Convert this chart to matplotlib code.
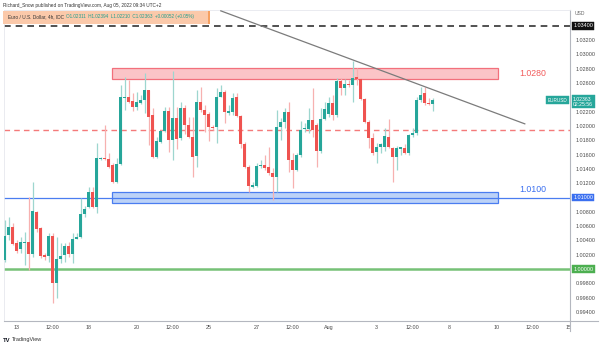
import numpy as np
import pandas as pd
import matplotlib
matplotlib.use("Agg")
import matplotlib.pyplot as plt
from matplotlib.patches import Rectangle
from matplotlib.lines import Line2D

# EUR/USD 4h candles, Jul 12 2022 12:00 .. Aug 05 2022 08:00 (UTC+2)
opens = [1.00126, 1.00476, 1.00583, 1.00359, 1.00275, 1.00368, 1.00373, 1.00205, 1.00802, 1.00569,
         1.00196, 1.00182, 1.00462, 0.99809, 1.00135, 1.00196, 1.00322, 1.00205, 1.00424, 1.00443,
         1.00769, 1.00872, 1.01082, 1.00872, 1.01538, 1.01557, 1.01538, 1.01455, 1.01221, 1.01469,
         1.02392, 1.02410, 1.02350, 1.02270, 1.02317, 1.02364, 1.02503, 1.02154, 1.01562, 1.01781,
         1.01935, 1.02214, 1.01804, 1.02117, 1.01827, 1.02256, 1.02014, 1.01841, 1.01585, 1.02331,
         1.02224, 1.02168, 1.01981, 1.01981, 1.02410, 1.02471, 1.02186, 1.02200, 1.02401, 1.02140,
         1.01744, 1.01431, 1.01152, 1.01161, 1.01441, 1.01455, 1.01431, 1.01338, 1.01291, 1.01981,
         1.02051, 1.02200, 1.01524, 1.01385, 1.01594, 1.01953, 1.01953, 1.02084, 1.02014, 1.01650,
         1.02098, 1.02168, 1.02317, 1.02154, 1.02629, 1.02527, 1.02587, 1.02573, 1.02681, 1.02657,
         1.02373, 1.02061, 1.01827, 1.01632, 1.01702, 1.01711, 1.01851, 1.01688, 1.01571, 1.01683,
         1.01697, 1.01627, 1.01874, 1.01907, 1.02364, 1.02457, 1.02317, 1.02311]
highs = [1.00685, 1.00732, 1.00639, 1.00406, 1.00452, 1.00522, 1.01012, 1.01221, 1.00811, 1.00592,
         1.00219, 1.00508, 1.00499, 1.00452, 1.00359, 1.00359, 1.00382, 1.00499, 1.00499, 1.00988,
         1.00881, 1.01152, 1.01152, 1.01758, 1.01571, 1.02014, 1.01618, 1.01478, 1.01548, 1.02573,
         1.02681, 1.02643, 1.02457, 1.02480, 1.02434, 1.02737, 1.02510, 1.02247, 1.01851, 1.01944,
         1.02270, 1.02270, 1.02774, 1.02270, 1.02340, 1.02294, 1.02131, 1.02131, 1.02503, 1.02550,
         1.02294, 1.02200, 1.02014, 1.02527, 1.02573, 1.02503, 1.02294, 1.02457, 1.02457, 1.02154,
         1.01781, 1.01455, 1.01221, 1.01478, 1.01524, 1.01594, 1.01711, 1.01408, 1.02224, 1.02107,
         1.02247, 1.02340, 1.01618, 1.01618, 1.02070, 1.02037, 1.02247, 1.02527, 1.02037, 1.02247,
         1.02340, 1.02410, 1.02434, 1.02667, 1.02667, 1.02653, 1.02643, 1.02914, 1.02807, 1.02667,
         1.02387, 1.02084, 1.01898, 1.01758, 1.01767, 1.01967, 1.02098, 1.01711, 1.01720, 1.01711,
         1.01748, 1.01888, 1.01967, 1.02410, 1.02550, 1.02541, 1.02387, 1.02394]
lows = [1.00103, 1.00406, 1.00336, 1.00219, 1.00219, 1.00056, 0.99986, 1.00172, 1.00522, 1.00149,
        1.00126, 1.00103, 0.99520, 0.99590, 1.00079, 1.00103, 1.00172, 1.00079, 1.00415, 1.00429,
        1.00732, 1.00848, 1.00860, 1.00788, 1.01524, 1.01524, 1.01408, 1.01198, 1.01198, 1.01455,
        1.02224, 1.02326, 1.02214, 1.02224, 1.02308, 1.02186, 1.01734, 1.01548, 1.01548, 1.01758,
        1.01921, 1.01641, 1.01524, 1.01674, 1.01804, 1.01888, 1.01827, 1.01291, 1.01422, 1.02200,
        1.01921, 1.01795, 1.01944, 1.01767, 1.02401, 1.02037, 1.02154, 1.02154, 1.02121, 1.01688,
        1.01408, 1.01082, 1.01128, 1.01152, 1.01408, 1.01385, 1.01315, 1.00965, 1.01082, 1.01804,
        1.01967, 1.01361, 1.01128, 1.01375, 1.01571, 1.01921, 1.01898, 1.01851, 1.01431, 1.01627,
        1.02084, 1.02131, 1.02084, 1.02131, 1.02434, 1.02434, 1.02550, 1.02340, 1.02573, 1.02364,
        1.02037, 1.01688, 1.01594, 1.01487, 1.01618, 1.01655, 1.01688, 1.01221, 1.01385, 1.01594,
        1.01608, 1.01594, 1.01851, 1.01874, 1.02340, 1.02294, 1.02294, 1.02210]
closes = [1.00462, 1.00583, 1.00350, 1.00252, 1.00373, 1.00382, 1.00205, 1.00811, 1.00555, 1.00182,
          1.00172, 1.00462, 0.99809, 1.00135, 1.00182, 1.00326, 1.00205, 1.00420, 1.00443, 1.00769,
          1.00839, 1.01082, 1.00872, 1.01548, 1.01557, 1.01545, 1.01431, 1.01221, 1.01469, 1.02401,
          1.02410, 1.02340, 1.02270, 1.02336, 1.02364, 1.02503, 1.02131, 1.01562, 1.01790, 1.01935,
          1.02214, 1.01804, 1.02117, 1.01818, 1.02256, 1.02014, 1.01851, 1.01562, 1.02331, 1.02224,
          1.02154, 1.01981, 1.01967, 1.02410, 1.02480, 1.02200, 1.02214, 1.02387, 1.02140, 1.01748,
          1.01422, 1.01166, 1.01175, 1.01441, 1.01455, 1.01408, 1.01338, 1.01291, 1.01991, 1.02061,
          1.02200, 1.01524, 1.01385, 1.01594, 1.01944, 1.01967, 1.02084, 1.01944, 1.01650, 1.02098,
          1.02238, 1.02317, 1.02154, 1.02629, 1.02527, 1.02583, 1.02578, 1.02667, 1.02660, 1.02373,
          1.02061, 1.01827, 1.01618, 1.01702, 1.01748, 1.01860, 1.01702, 1.01571, 1.01688, 1.01702,
          1.01627, 1.01874, 1.01907, 1.02364, 1.02434, 1.02317, 1.02308, 1.02363]

# Horizontal levels and zones
resistance_level = 1.0280
resistance_zone = (1.0266, 1.0281)
support_level = 1.0100
support_zone = (1.0092, 1.0108)
pivot_level = 1.0195
parity_level = 1.0000
top_level = 1.0340
zone_span = ("2022-07-19 00:00", "2022-08-10 00:00")

# Descending trendline anchors (time, price)
trend_times = ["2022-07-25 12:00", "2022-08-11 04:00"]
trend_prices = [1.0361, 1.0203]

# Time axis labels
tick_times = ["2022-07-13 00:00", "2022-07-14 12:00", "2022-07-18 00:00", "2022-07-20 00:00",
              "2022-07-21 12:00", "2022-07-25 00:00", "2022-07-27 00:00", "2022-07-28 12:00",
              "2022-08-01 00:00", "2022-08-03 00:00", "2022-08-04 12:00", "2022-08-08 00:00",
              "2022-08-10 00:00", "2022-08-11 12:00", "2022-08-15 00:00"]
tick_labels = ["13", "12:00", "18", "20", "12:00", "25", "27", "12:00",
               "Aug", "3", "12:00", "8", "10", "12:00", "15"]

# Price scale labels (values hidden behind the price tags are left out)
price_ticks = [0.994, 0.996, 0.998, 1.002, 1.004, 1.006, 1.008, 1.012, 1.014, 1.016,
               1.018, 1.020, 1.022, 1.026, 1.028, 1.030, 1.032]

last_price = 1.02363
countdown = "02:25:56"

# ---- trading-bar calendar (4h bars, weekends skipped) ----
stamps = pd.date_range("2022-07-12 12:00", "2022-08-31 00:00", freq="4h")
stamps = stamps[stamps.dayofweek < 5]
bar_index = {t: i for i, t in enumerate(stamps)}


def bar(t):
    return bar_index[pd.Timestamp(t)]


W, H = 601, 346
plt.rcParams["font.family"] = ["Liberation Sans", "DejaVu Sans"]
fig = plt.figure(figsize=(W / 100, H / 100), dpi=100)
fig.patch.set_facecolor("white")

px_l, px_r, px_t, px_b = 4, 570, 10, 321
ax = fig.add_axes([px_l / W, 1 - px_b / H, (px_r - px_l) / W, (px_b - px_t) / H])
ax.set_xlim(-0.2, 141.3)
ax.set_ylim(0.99273, 1.03622)

GREEN = "#26a69a"
RED = "#ef5350"
GREEN_WICK = "#9dd6cf"
RED_WICK = "#f7b1b0"

o = np.array(opens); h = np.array(highs); l = np.array(lows); c = np.array(closes)
x = np.arange(len(o))
up = c >= o
ax.vlines(x[up], l[up], h[up], color=GREEN_WICK, lw=0.9, zorder=3)
ax.vlines(x[~up], l[~up], h[~up], color=RED_WICK, lw=0.9, zorder=3)
body_lo = np.minimum(o, c)
body_h = np.maximum(np.abs(c - o), 0.00004)
ax.bar(x[up], body_h[up], bottom=body_lo[up], width=0.7, color=GREEN, lw=0, zorder=4)
ax.bar(x[~up], body_h[~up], bottom=body_lo[~up], width=0.7, color=RED, lw=0, zorder=4)

# Horizontal lines
ax.axhline(top_level, color="#333333", lw=1.2, ls=(0, (4, 3)), zorder=2)
ax.axhline(pivot_level, color="#f47a7a", lw=1.0, ls=(0, (4, 3)), zorder=2)
ax.axhline(support_level, color="#4a7df0", lw=0.9, zorder=2)
ax.axhline(parity_level, color="#76c177", lw=1.8, zorder=2)

# Zones
z0, z1 = bar(zone_span[0]), bar(zone_span[1])
ax.add_patch(Rectangle((z0 - 0.2, resistance_zone[0]), z1 - z0 + 0.5,
                       resistance_zone[1] - resistance_zone[0],
                       facecolor="#fbc4c7", edgecolor="#f2707c", lw=0.9, zorder=1.5))
ax.add_patch(Rectangle((z0 - 0.2, support_zone[0]), z1 - z0 + 0.5,
                       support_zone[1] - support_zone[0],
                       facecolor="#bcd2f7", edgecolor="#4a7df0", lw=0.9, zorder=1.5))
ax.text(132, resistance_level - 0.0006, f"{resistance_level:.4f}", color="#f25c5c",
        fontsize=6.3, ha="center", va="center", zorder=5)
ax.text(132, support_level + 0.0011, f"{support_level:.4f}", color="#3a6ff0",
        fontsize=6.3, ha="center", va="center", zorder=5)

# Trendline
ax.plot([bar(t) for t in trend_times], trend_prices, color="#7b7b7b", lw=0.9, zorder=5)

# Axes styling
for side in ("left", "top"):
    ax.spines[side].set_color("#e6e8ee")
    ax.spines[side].set_linewidth(0.6)
for side in ("right", "bottom"):
    ax.spines[side].set_color("#b4b7bf")
    ax.spines[side].set_linewidth(0.8)

ax.yaxis.tick_right()
ax.set_yticks(price_ticks)
ax.set_yticklabels([f"{v:.5f}" for v in price_ticks])
ax.tick_params(axis="y", length=0, pad=4, labelsize=3.9, labelcolor="#4a4a4a")
ax.set_xticks([bar(t) for t in tick_times])
ax.set_xticklabels(tick_labels)
ax.tick_params(axis="x", length=0, pad=3.2, labelsize=3.9, labelcolor="#4a4a4a")

trans = ax.get_yaxis_transform()
ax.text(1.009, 1.0358, "USD", transform=trans, fontsize=3.6, color="#666666", va="center")


def price_tag(price, text, face, tcolor="white"):
    ax.text(1.0055, price, text, transform=trans, fontsize=3.9, color=tcolor, va="center",
            ha="left", zorder=6, clip_on=False,
            bbox=dict(boxstyle="square,pad=0.25", facecolor=face, edgecolor=face, lw=0.3))


price_tag(top_level, f"{top_level:.5f}", "#111111")
price_tag(support_level, f"{support_level:.5f}", "#3a6ff0")
price_tag(parity_level, f"{parity_level:.5f}", "#4caf50")
ax.text(1.0055, last_price - 0.00025, f"{last_price:.5f}\n{countdown}", transform=trans,
        fontsize=3.7, color="white", va="center", ha="left", zorder=6, clip_on=False,
        linespacing=1.05,
        bbox=dict(boxstyle="square,pad=0.3", facecolor=GREEN, edgecolor=GREEN, lw=0.3))
ax.text(0.995, last_price, "EURUSD", transform=trans, fontsize=3.3, color="white",
        va="center", ha="right", zorder=6, clip_on=False,
        bbox=dict(boxstyle="square,pad=0.3", facecolor=GREEN, edgecolor=GREEN, lw=0.3))

# Price-scale column covers the time labels that run past the chart's right edge
fig.add_artist(Rectangle(((px_r + 0.6) / W, 1 - 336 / H), (W - px_r) / W, (336 - px_b - 0.6) / H,
                         transform=fig.transFigure, facecolor="white", edgecolor="none",
                         zorder=1))

# Axis frame extensions below and right of the plot
fig.add_artist(Line2D([px_r / W, px_r / W], [1 - 331 / H, 1 - px_b / H], color="#b4b7bf",
                      lw=0.8, zorder=2))
fig.add_artist(Line2D([px_r / W, 598 / W], [1 - px_b / H, 1 - px_b / H], color="#b4b7bf",
                      lw=0.8, zorder=2))

# Header
fig.text(3 / W, 1 - 5 / H, "Richard_Snow published on TradingView.com, Aug 05, 2022 09:34 UTC+2",
         fontsize=3.4, color="#333333", va="center", ha="left")
fig.add_artist(Rectangle((3 / W, 1 - 24 / H), 207 / W, 13 / H, transform=fig.transFigure,
                         facecolor="#fbc9aa", edgecolor="none"))
fig.add_artist(Rectangle((208 / W, 1 - 24 / H), 2 / W, 13 / H, transform=fig.transFigure,
                         facecolor="#f5a061", edgecolor="none"))
fig.text(8 / W, 1 - 16.5 / H, "Euro / U.S. Dollar, 4h, IDC", fontsize=3.4,
         color="#333333", va="center", ha="left")
fig.text(66 / W, 1 - 16.5 / H,
         f"O{opens[-1]:.5f}  H{highs[-1]:.5f}  L{lows[-1]:.5f}  C{closes[-1]:.5f}  "
         f"+{closes[-1] - opens[-1]:.5f} (+{(closes[-1] - opens[-1]) / opens[-1] * 100:.2f}%)",
         fontsize=3.3, color="#1e9e8e", va="center", ha="left")

# Footer logo
fig.text(3 / W, 1 - 340 / H, "TV", fontsize=4.2, weight="bold", color="#131722", va="center")
fig.text(12 / W, 1 - 340 / H, "TradingView", fontsize=4.0, color="#333333", va="center")

fig.savefig("out.png", dpi=100)
